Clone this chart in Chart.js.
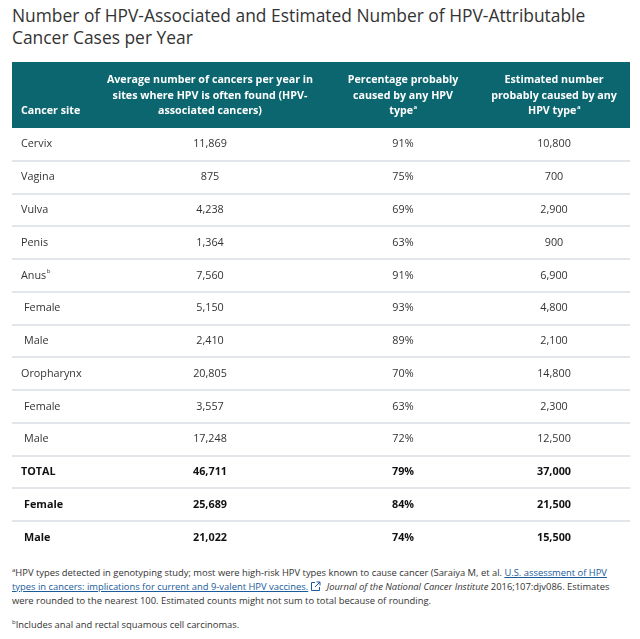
<!DOCTYPE html>
<html>
<head>
<meta charset="utf-8">
<title>HPV-associated cancer cases</title>
<script src="https://cdn.jsdelivr.net/npm/chart.js@4.4.1/dist/chart.umd.min.js"></script>
<style>
  body { margin: 0; background: #fff; font-family: "Open Sans", sans-serif; color: #333; }
  h1 { position: absolute; left: 12px; top: 4px; margin: 0; font-size: 17.4px; font-weight: 400;
       line-height: 22px; color: #333; white-space: nowrap; }
  #wrap { position: absolute; left: 12px; top: 62px; width: 618px; height: 492px; }
  .notes { position: absolute; left: 12px; top: 564px; font-size: 9.4px; line-height: 13.8px; white-space: nowrap; }
  .notes p { margin: 0 0 9px 0; }
  .notes sup { font-size: 6px; vertical-align: 4px; }
  .notes a { color: #1a5b9c; text-decoration: underline; }
  .notes svg { vertical-align: -2px; margin: 0 3px 0 2px; }
</style>
</head>
<body>
<h1>Number of HPV-Associated and Estimated Number of HPV-Attributable<br>Cancer Cases per Year</h1>
<div id="wrap"><canvas id="table"></canvas></div>
<div class="notes">
  <p><sup>a</sup>HPV types detected in genotyping study; most were high-risk HPV types known to cause cancer (Saraiya M, et al. <a>U.S. assessment of HPV</a><br><a>types in cancers: implications for current and 9-valent HPV vaccines.</a><svg width="11" height="11" viewBox="0 0 11 11"><path d="M5 1.5H1.5v8h8V6" fill="none" stroke="#1a5b9c" stroke-width="1"/><path d="M6.5 1h3.5v3.5M10 1L5 6" fill="none" stroke="#1a5b9c" stroke-width="1"/></svg> <i>Journal of the National Cancer Institute</i> 2016;107:djv086. Estimates<br>were rounded to the nearest 100. Estimated counts might not sum to total because of rounding.</p>
  <p><sup>b</sup>Includes anal and rectal squamous cell carcinomas.</p>
</div>
<script>
// table content
const siteLabels = ['Cervix', 'Vagina', 'Vulva', 'Penis', 'Anus^b', 'Female', 'Male',
                    'Oropharynx', 'Female', 'Male', 'TOTAL', 'Female', 'Male'];
const subRows = [5, 6, 8, 9, 11, 12];   // rows that sit under a parent site
const totalFrom = 10;                    // TOTAL and its split are bold
const associated = [11869, 875, 4238, 1364, 7560, 5150, 2410, 20805, 3557, 17248, 46711, 25689, 21022];
const pctHPV = [91, 75, 69, 63, 91, 93, 89, 70, 63, 72, 79, 84, 74];
const attributable = [10800, 700, 2900, 900, 6900, 4800, 2100, 14800, 2300, 12500, 37000, 21500, 15500];
const columnHeaders = [
    ['Cancer site'],
    ['Average number of cancers per year in', 'sites where HPV is often found (HPV-', 'associated cancers)'],
    ['Percentage probably', 'caused by any HPV', 'type^a'],
    ['Estimated number', 'probably caused by any', 'HPV type^a']
];

// layout (canvas px)
const headerHeight = 66;
const siteLeft = 9;
const colCenters = [0, 198, 391, 542];
const teal = '#0b6670';
const fontFamily = '"Open Sans", sans-serif';

const fmt = v => v.toLocaleString('en-US');

// draw "text^x" with a small superscript
function drawSup(ctx, str, x, y, align, size, weight) {
    const parts = str.split('^');
    const main = parts[0], sup = parts[1] || '';
    ctx.font = weight + ' ' + size + 'px ' + fontFamily;
    const w1 = ctx.measureText(main).width;
    ctx.font = weight + ' ' + Math.round(size * 0.6) + 'px ' + fontFamily;
    const w2 = ctx.measureText(sup).width;
    let left = x;
    if (align === 'center') left = x - (w1 + w2) / 2;
    ctx.textAlign = 'left';
    ctx.textBaseline = 'middle';
    ctx.font = weight + ' ' + size + 'px ' + fontFamily;
    ctx.fillText(main, left, y);
    if (sup) {
        ctx.font = weight + ' ' + Math.round(size * 0.6) + 'px ' + fontFamily;
        ctx.fillText(sup, left + w1 + 0.5, y - size * 0.35);
    }
}

const tablePlugin = {
    id: 'tablePlugin',
    beforeDatasetsDraw(chart) {
        const ctx = chart.ctx;
        const yScale = chart.scales.y;
        const area = chart.chartArea;
        ctx.save();
        // header band
        ctx.fillStyle = teal;
        ctx.fillRect(0, 0, chart.width, area.top);
        ctx.fillStyle = '#fff';
        columnHeaders.forEach((lines, c) => {
            const lh = 15.5;
            const lastY = area.top - 17;
            lines.forEach((line, k) => {
                const y = lastY - (lines.length - 1 - k) * lh;
                if (c === 0) drawSup(ctx, line, siteLeft, y, 'left', 10.7, 'bold');
                else drawSup(ctx, line, colCenters[c], y, 'center', 10.7, 'bold');
            });
        });
        // row separators
        ctx.strokeStyle = '#e2e6ea';
        ctx.lineWidth = 2;
        const half = (yScale.getPixelForValue(1) - yScale.getPixelForValue(0)) / 2;
        for (let i = 0; i < siteLabels.length - 1; i++) {
            const y = Math.round(yScale.getPixelForValue(i) + half);
            ctx.beginPath();
            ctx.moveTo(area.left, y);
            ctx.lineTo(area.right, y);
            ctx.stroke();
        }
        ctx.restore();
    },
    afterDatasetsDraw(chart) {
        const ctx = chart.ctx;
        ctx.save();
        chart.data.datasets.forEach((ds, d) => {
            const meta = chart.getDatasetMeta(d);
            meta.data.forEach((pt, i) => {
                const bold = i >= totalFrom;
                ctx.fillStyle = bold ? '#111' : '#333';
                const weight = bold ? 'bold' : 'normal';
                const text = ds.cellText[i];
                if (d === 0) {
                    const x = pt.x + (subRows.includes(i) ? 3 : 0);
                    drawSup(ctx, text, x, pt.y, 'left', 10.8, weight);
                } else {
                    drawSup(ctx, text, pt.x, pt.y, 'center', 10.8, weight);
                }
            });
        });
        ctx.restore();
    }
};

const columns = [
    siteLabels,
    associated.map(fmt),
    pctHPV.map(v => v + '%'),
    attributable.map(fmt)
];

new Chart(document.getElementById('table'), {
    type: 'scatter',
    data: {
        datasets: columns.map((texts, c) => ({
            label: columnHeaders[c].join(' '),
            cellText: texts,
            data: texts.map((_, i) => ({ x: c === 0 ? siteLeft : colCenters[c], y: i })),
            pointRadius: 0
        }))
    },
    options: {
        responsive: true,
        maintainAspectRatio: false,
        animation: false,
        events: [],
        layout: { padding: { top: headerHeight, left: 0, right: 0, bottom: 0 } },
        scales: {
            x: { type: 'linear', min: 0, max: 618, display: false },
            y: { type: 'category', labels: siteLabels, offset: true, display: false }
        },
        plugins: {
            legend: { display: false },
            tooltip: { enabled: false }
        }
    },
    plugins: [tablePlugin]
});
</script>
</body>
</html>
